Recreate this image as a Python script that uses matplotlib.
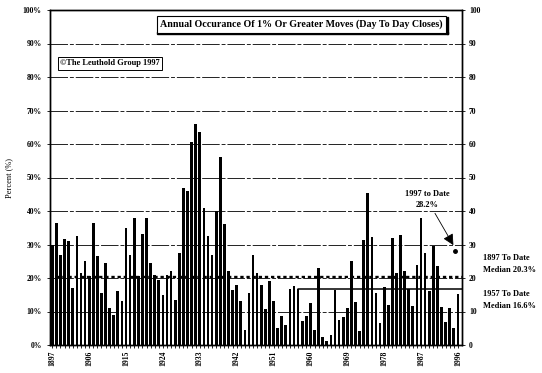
import numpy as np
import matplotlib
matplotlib.use("Agg")
import matplotlib.pyplot as plt

plt.rcParams['font.family'] = ['Liberation Serif', 'DejaVu Serif']
plt.rcParams['font.weight'] = 'bold'

years = np.arange(1897, 1997)
pct = [30, 36.5, 27, 31.5, 31, 17, 32.5, 21.5, 25, 20.5,        # 1897-1906
       36.5, 26.5, 15.5, 24.5, 11, 9, 16, 13, 35, 27,          # 1907-1916
       38, 20.5, 33, 38, 24.5, 21, 19.5, 15, 21, 22,           # 1917-1926
       13.5, 27.5, 47, 46, 60.5, 66, 63.5, 41, 32.5, 27,       # 1927-1936
       40, 56, 36, 22, 16.5, 18, 13, 4.5, 15.5, 27,            # 1937-1946
       21.5, 18, 10.8, 19, 13.2, 5.1, 8.8, 6, 16.6, 17.5,      # 1947-1956
       16.6, 7.1, 8.6, 12.4, 4.6, 23, 2.3, 1.1, 3.1, 16.4,     # 1957-1966
       7.5, 8.5, 11, 25, 12.8, 4.1, 31.3, 45.3, 32.3, 15.5,    # 1967-1976
       6.7, 17.2, 12, 31.8, 21.5, 32.7, 22, 16.8, 11.7, 24,    # 1977-1986
       37.8, 27.5, 16.2, 29.5, 23.5, 11.3, 6.8, 11, 5.2, 15.3] # 1987-1996

median_all = 20.3
median_1957 = 16.6
ytd_1997 = 28.2
tick_years = list(range(1897, 1997, 9))

fig = plt.figure(figsize=(5.42, 3.73), dpi=100)
ax = fig.add_axes([50/542, 28/373, 412/542, 335/373])

ax.bar(years, pct, width=0.66, color='black', zorder=3)

# grid lines
for g in range(10, 100, 10):
    ax.axhline(g, color='#222222', lw=0.7, ls=(0, (18, 2, 4, 2)), zorder=1)

# medians
ax.plot([years[0] - 0.6, 1997], [median_all, median_all], color='black', lw=1.7,
        ls=(0, (1.4, 1.2)), zorder=4)
ax.plot([1957, 1957, 1997], [0, median_1957, median_1957], color='black', lw=1.1, zorder=4)

# 1997 to date point
ax.plot([1995.4], [ytd_1997], 'o', color='black', ms=2.5, zorder=5)
ax.annotate('1997 to Date\n28.2%', xy=(1994.9, 29.8), xytext=(1988.5, 40.5),
            ha='center', va='bottom', fontsize=6, linespacing=1.5,
            arrowprops=dict(arrowstyle='-|>,head_length=1.1,head_width=0.55',
                            color='black', lw=0.6, shrinkA=1, shrinkB=0),
            zorder=6)

ax.set_xlim(1896.44, 1997)
ax.set_ylim(0, 100)

ax.set_yticks(range(0, 101, 10))
ax.set_yticklabels(['%d%%' % v for v in range(0, 101, 10)], fontsize=5.5)
ax.set_xticks(tick_years)
ax.set_xticklabels([str(y) for y in tick_years], rotation=90, fontsize=5.5)
ax.set_xticks(years, minor=True)
ax.tick_params(axis='x', which='both', length=2, width=0.6, direction='out', pad=2)
ax.tick_params(axis='y', length=2, width=0.6, pad=4)
ax.set_ylabel('Percent (%)', fontsize=6, labelpad=7)

ax2 = ax.twinx()
ax2.set_ylim(0, 100)
ax2.set_yticks(range(0, 101, 10))
ax2.set_yticklabels([str(v) for v in range(0, 101, 10)], fontsize=5.5)
ax2.tick_params(axis='y', length=2, width=0.6, pad=3)

for a in (ax, ax2):
    for s in a.spines.values():
        s.set_linewidth(1.0)

# title box with shadow
fig.text(301.5/542, 1 - 24.5/373, 'Annual Occurance Of 1% Or Greater Moves (Day To Day Closes)',
         ha='center', va='center', fontsize=7.2,
         bbox=dict(boxstyle='square,pad=0.32', fc='white', ec='black', lw=0.8))
fig.patches.append(plt.Rectangle((157/542, 1 - 33.5/373), 291/542, 1.4/373,
                                 transform=fig.transFigure, color='black'))
fig.patches.append(plt.Rectangle((446.5/542, 1 - 33.5/373), 1.4/542, 16/373,
                                 transform=fig.transFigure, color='black'))

fig.text(60/542, 1 - 63/373, '\u00a9The Leuthold Group 1997', ha='left', va='center',
         fontsize=6,
         bbox=dict(boxstyle='square,pad=0.3', fc='white', ec='black', lw=0.7))

fig.text(483/542, 1 - 264/373, '1897 To Date\nMedian 20.3%', ha='left', va='center',
         fontsize=6, linespacing=1.6)
fig.text(483/542, 1 - 300/373, '1957 To Date\nMedian 16.6%', ha='left', va='center',
         fontsize=6, linespacing=1.6)

fig.savefig('out.png', dpi=100)
